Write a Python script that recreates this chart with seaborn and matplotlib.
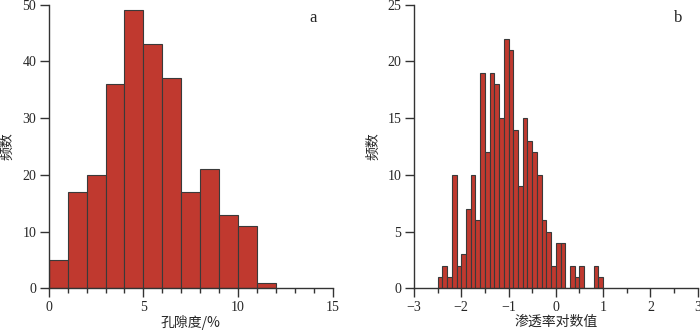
import numpy as np
import pandas as pd
import matplotlib
matplotlib.use("Agg")
import matplotlib.pyplot as plt
from matplotlib.ticker import MultipleLocator
import seaborn as sns

sns.set_style("ticks")
plt.rcParams['font.family'] = ['Liberation Serif', 'Noto Sans CJK SC']
plt.rcParams['font.size'] = 10

# 孔隙度直方图 (a)
por_left = [0, 1, 2, 3, 4, 5, 6, 7, 8, 9, 10, 11]
por_count = [5, 17, 20, 36, 49, 43, 37, 17, 21, 13, 11, 1]
por_width = 1.0

# 渗透率对数值直方图 (b)
perm_left = [-2.5, -2.4, -2.3, -2.2, -2.1, -2.0, -1.9, -1.8, -1.7, -1.6,
             -1.5, -1.4, -1.3, -1.2, -1.1, -1.0, -0.9, -0.8, -0.7, -0.6,
             -0.5, -0.4, -0.3, -0.2, -0.1, 0.0, 0.1, 0.2, 0.3, 0.4,
             0.5, 0.6, 0.7, 0.8, 0.9]
perm_count = [1, 2, 1, 10, 2, 3, 7, 10, 6, 19,
              12, 19, 18, 15, 22, 21, 14, 9, 15, 13,
              12, 10, 6, 5, 2, 4, 4, 0, 2, 1,
              2, 0, 0, 2, 1]
perm_width = 0.1

bar_color = "#C0392F"
edge_color = "#3a3a3a"
cjk = ['Noto Sans CJK SC', 'DejaVu Sans']


def draw_hist(ax, left, counts, width, xlim, ylim, xmajor, xminor, ymajor,
              xlabel, tag):
    left = np.asarray(left, dtype=float)
    df = pd.DataFrame({'x': left + width / 2, 'n': counts})
    # 直方图的分箱边界
    edges = [float(e) for e in np.round(np.append(left, left[-1] + width), 3)]
    sns.histplot(data=df, x='x', weights='n', bins=edges, ax=ax,
                 color=bar_color, edgecolor=edge_color, linewidth=0.8,
                 alpha=1.0)
    ax.set_xlim(*xlim)
    ax.set_ylim(*ylim)
    ax.xaxis.set_major_locator(MultipleLocator(xmajor))
    ax.xaxis.set_minor_locator(MultipleLocator(xminor))
    ax.yaxis.set_major_locator(MultipleLocator(ymajor))
    ax.tick_params(axis='both', which='major', direction='out', length=6.5,
                   width=1, color='#333333', labelsize=10, pad=2.5)
    ax.tick_params(axis='x', which='minor', direction='out', length=3.5,
                   width=1, color='#333333')
    for s in ['left', 'bottom']:
        ax.spines[s].set_color('#333333')
        ax.spines[s].set_linewidth(1)
    sns.despine(ax=ax)
    ax.set_xlabel(xlabel, family=cjk, fontsize=10, labelpad=1)
    ax.set_ylabel('频数', family=cjk, fontsize=10)
    ax.yaxis.set_label_coords(-0.12, 0.5)
    ax.text(0.93, 0.955, tag, transform=ax.transAxes, fontsize=12,
            ha='center', va='center')
    ticks = ax.get_xticks()
    ax.set_xticks(ticks)
    ax.set_xticklabels([f"{t:g}".replace('-', '\u2212') for t in ticks])
    ax.set_xlim(*xlim)


fig = plt.figure(figsize=(7.0, 3.32), dpi=100)
ax1 = fig.add_axes([0.0696, 0.1316, 0.4057, 0.854])
ax2 = fig.add_axes([0.5914, 0.1316, 0.4053, 0.854])

draw_hist(ax1, por_left, por_count, por_width, (0, 15), (0, 50), 5, 1, 10,
          '孔隙度/%', 'a')
draw_hist(ax2, perm_left, perm_count, perm_width, (-3, 3), (0, 25), 1, 0.5, 5,
          '渗透率对数值', 'b')

fig.savefig("out.png", dpi=100)
